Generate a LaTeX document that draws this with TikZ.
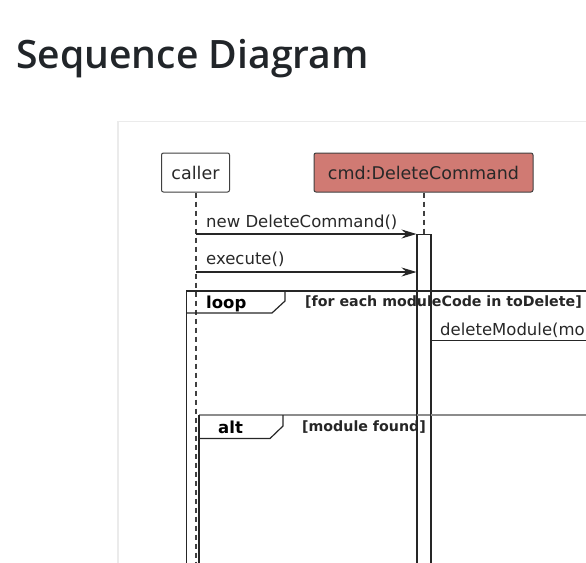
\documentclass[tikz,border=0pt]{standalone}
\usepackage{fontspec}
\setmainfont{DejaVu Sans}
\IfFontExistsTF{Open Sans SemiBold}{\newfontfamily\titlefont{Open Sans SemiBold}\def\titlesize{39.1}}{%
 \IfFontExistsTF{Open Sans Semibold}{\newfontfamily\titlefont{Open Sans Semibold}\def\titlesize{39.1}}{%
  \newfontfamily\titlefont{Open Sans}\def\titlesize{39.5}}}
\usetikzlibrary{arrows.meta}
\definecolor{cmdfill}{RGB}{208,122,115}
\definecolor{titlecol}{RGB}{33,37,41}
\definecolor{txt}{RGB}{40,40,40}
\tikzset{
  participant/.style={draw=black!75, line width=1pt, rounded corners=2pt, minimum height=39pt, inner sep=0pt, font=\fontsize{17.5}{20}\selectfont, text=txt},
  lifeline/.style={draw=black!75, line width=1.1pt, dash pattern=on 5pt off 4pt},
  msg/.style={draw=black!85, line width=1.1pt, -{Stealth[length=15pt,width=9pt,inset=5pt]}},
  msgtext/.style={anchor=base west, inner sep=0pt, font=\fontsize{16.5}{19}\selectfont, text=txt},
  framelabel/.style={anchor=base west, inner sep=0pt, font=\fontsize{16.5}{19}\selectfont\bfseries, text=black},
  guard/.style={anchor=base west, inner sep=0pt, font=\fontsize{14.2}{17}\selectfont\bfseries, text=black!85},
  frameline/.style={draw=black!85, line width=1.2pt},
  activation/.style={draw=black!85, fill=white, line width=1.1pt}
}
\begin{document}
\begin{tikzpicture}[x=1pt,y=-1pt]
\useasboundingbox (0,0) rectangle (586,562);
\begin{scope}
\clip (0,0) rectangle (586,562);
% title
\node[anchor=base west, inner sep=0pt, text=titlecol, font=\titlefont\fontsize{\titlesize}{44}\selectfont] (title) at (16,68.5) {Sequence Diagram};
% panel
\draw[draw=black!8, line width=1.2pt] (118,700) -- (118,121.5) -- (700,121.5);
% participants
\node[participant, fill=white, minimum width=68pt] (caller) at (195.5,172.5) {caller};
\node[participant, fill=cmdfill, minimum width=219pt] (cmd) at (423.5,172.5) {cmd:DeleteCommand};
% lifelines
\coordinate (callerEnd) at (196,600);
\coordinate (cmdAct) at (424,234);
\draw[lifeline] (caller.south -| 196,0) -- (callerEnd);
\draw[lifeline] (cmd.south -| 424,0) -- (cmdAct);
% activation bar
\node[activation, anchor=north west, minimum width=14pt, minimum height=400pt, inner sep=0pt] (act) at (416.5,234) {};
% messages
\coordinate (m1s) at (196,234);
\coordinate (m1e) at (416.5,234);
\draw[msg] (m1s) -- (m1e);
\node[msgtext] (m1t) at (206,227) {new DeleteCommand()};
\coordinate (m2s) at (196,272);
\coordinate (m2e) at (416.5,272);
\draw[msg] (m2s) -- (m2e);
\node[msgtext] (m2t) at (206,264.5) {execute()};
% loop frame
\coordinate (loopTL) at (186.5,291);
\draw[frameline] (186.5,620) -- (loopTL) -- (640,291);
\draw[frameline] (186.5,313) -- (272,313) -- (285,301) -- (285,291);
\node[framelabel] (looplbl) at (206,308.5) {loop};
\node[guard] (loopguard) at (305,306) {[for each moduleCode in toDelete]};
% deleteModule message
\coordinate (m3s) at (430.5,340.5);
\coordinate (m3e) at (640,340.5);
\draw[msg] (m3s) -- (m3e);
\node[msgtext] (m3t) at (440,335.5) {deleteModule(mo};
% alt frame
\draw[draw=black!45, line width=2.2pt] (199,415) -- (640,415);
\draw[frameline] (199,620) -- (199,415);
\draw[frameline] (199,438.5) -- (270,438.5) -- (283,426) -- (283,415);
\node[framelabel] (altlbl) at (218,433) {alt};
\node[guard] (altguard) at (302,431.5) {[module found]};
% redraw activation edges over frame lines
\draw[draw=black!85, line width=1.1pt] (416.5,234) -- (416.5,600) (430.5,234) -- (430.5,600);
\end{scope}
\end{tikzpicture}
\end{document}
